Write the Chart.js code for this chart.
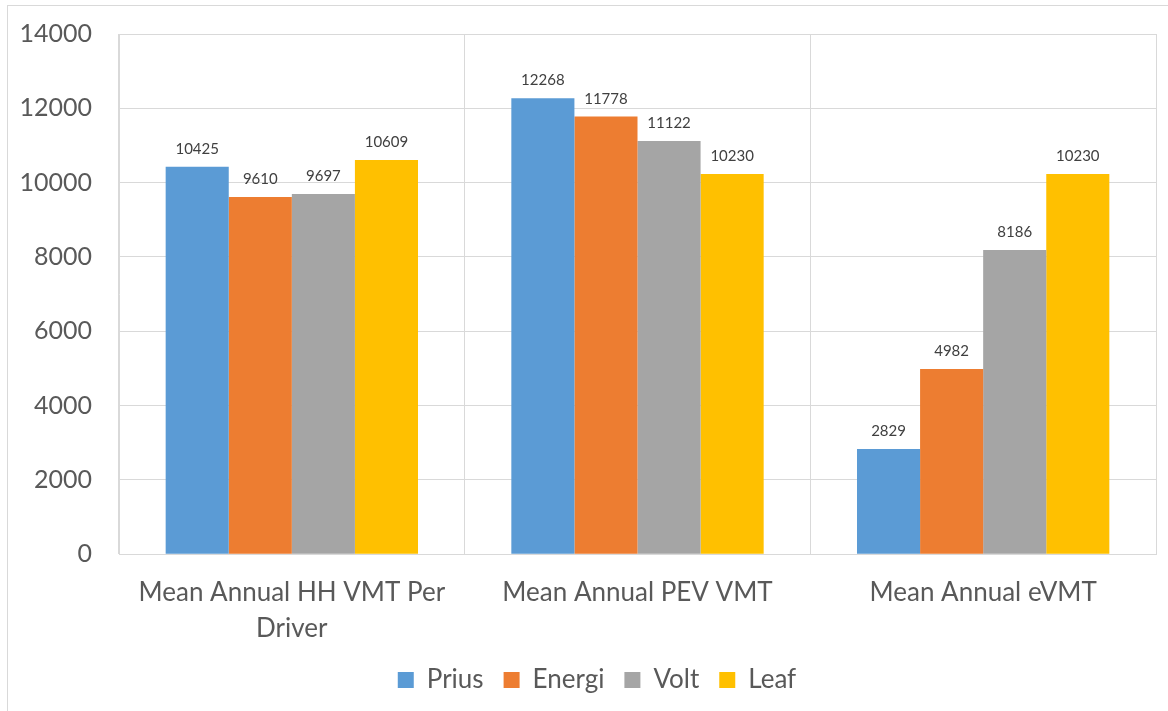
<!DOCTYPE html>
<html>
<head>
<meta charset="utf-8">
<script src="https://cdn.jsdelivr.net/npm/chart.js@4.4.0/dist/chart.umd.min.js"></script>
<style>
  html, body { margin: 0; padding: 0; background: #fff; }
  #wrap { position: relative; width: 1168px; height: 711px; }
</style>
</head>
<body>
<div id="wrap"><canvas id="ourChart" width="1168" height="711"></canvas></div>
<script>
// данные
const categories = [['Mean Annual HH VMT Per', 'Driver'], 'Mean Annual PEV VMT', 'Mean Annual eVMT'];
const prius  = [10425, 12268, 2829];
const energi = [9610, 11778, 4982];
const volt   = [9697, 11122, 8186];
const leaf   = [10609, 10230, 10230];
const yTicks = [0, 2000, 4000, 6000, 8000, 10000, 12000, 14000];

const fontName = 'Lato, "Open Sans", sans-serif';

// рамка вокруг всей картинки, легенда чуть правее
const outerBorder = {
    id: 'outerBorder',
    afterLayout(chart) {
        chart.legend.left += 38;
    },
    beforeDraw(chart) {
        const ctx = chart.ctx;
        ctx.save();
        ctx.strokeStyle = '#d9d9d9';
        ctx.lineWidth = 1;
        ctx.strokeRect(7.5, 5.5, 1200, 760);
        ctx.restore();
    }
};

// подписи значений над столбцами
const valueLabels = {
    id: 'valueLabels',
    afterDatasetsDraw(chart) {
        const ctx = chart.ctx;
        ctx.save();
        ctx.font = '15px ' + fontName;
        ctx.fillStyle = '#404040';
        ctx.textAlign = 'center';
        ctx.textBaseline = 'alphabetic';
        chart.data.datasets.forEach((ds, i) => {
            chart.getDatasetMeta(i).data.forEach((bar, j) => {
                ctx.fillText(ds.data[j], bar.x, bar.y - 13);
            });
        });
        ctx.restore();
    }
};

const chartElement = new Chart(document.getElementById('ourChart'), {
    type: 'bar',
    data: {
        labels: categories,
        datasets: [
            { label: 'Prius',  data: prius,  backgroundColor: '#5B9BD5' },
            { label: 'Energi', data: energi, backgroundColor: '#ED7D31' },
            { label: 'Volt',   data: volt,   backgroundColor: '#A5A5A5' },
            { label: 'Leaf',   data: leaf,   backgroundColor: '#FFC000' }
        ]
    },
    options: {
        responsive: false,
        animation: false,
        devicePixelRatio: 1,
        categoryPercentage: 0.73,
        barPercentage: 1.0,
        layout: { padding: { left: 0, right: 12, top: 34, bottom: 8 } },
        plugins: {
            tooltip: { enabled: false },
            legend: {
                position: 'bottom',
                labels: {
                    boxWidth: 16,
                    boxHeight: 16,
                    padding: 20,
                    color: '#595959',
                    font: { family: fontName, size: 26 }
                }
            }
        },
        scales: {
            x: {
                afterFit(scale) { scale.height = scale.height - 20; },
                grid: { color: '#d9d9d9', drawTicks: false, offset: true },
                border: { color: '#d9d9d9' },
                ticks: {
                    color: '#595959',
                    padding: 20,
                    maxRotation: 0,
                    font: { family: fontName, size: 26, lineHeight: 1.4 }
                }
            },
            y: {
                min: 0,
                max: 14000,
                afterFit(scale) {
                    scale.width = 119;
                    scale.paddingTop = 0;
                    scale.paddingBottom = 0;
                },
                afterBuildTicks(scale) { scale.ticks = yTicks.map(v => ({ value: v })); },
                grid: { color: '#d9d9d9', drawTicks: false },
                border: { color: '#d9d9d9' },
                ticks: {
                    color: '#595959',
                    padding: 27,
                    callback: v => String(v),
                    font: { family: fontName, size: 25 }
                }
            }
        }
    },
    plugins: [outerBorder, valueLabels]
});
</script>
</body>
</html>
